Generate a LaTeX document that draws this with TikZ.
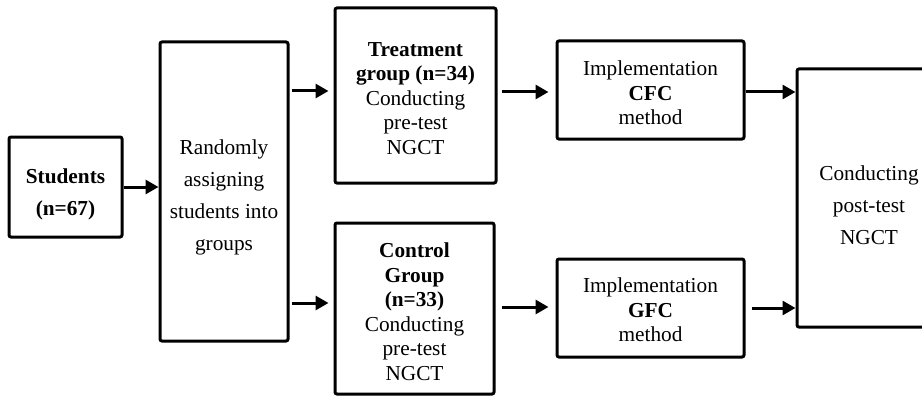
\documentclass[tikz,border=0pt]{standalone}
\usepackage{fontspec}
\setmainfont{Liberation Serif}
\usetikzlibrary{arrows.meta}
\begin{document}
\begin{tikzpicture}[x=1pt,y=-1pt,
  box/.style={draw=black, line width=3pt, rounded corners=2pt, inner sep=0pt},
  txt/.style={inner sep=0pt, align=center, font=\fontsize{21.3}{24.5}\selectfont},
  wide/.style={font=\fontsize{21.3}{32}\selectfont},
  arr/.style={line width=3pt, -{Triangle[length=13pt,width=14pt]}}]
\useasboundingbox (0,0) rectangle (922,396);
\node[box, minimum width=113pt, minimum height=100pt] (stud) at (65.5,187) {};
\node[txt, wide] at ([yshift=-7pt]stud.center) {\textbf{Students}\\\textbf{(n=67)}};
\node[box, minimum width=128pt, minimum height=299pt] (rand) at (224,191.5) {};
\node[txt, wide] at ([yshift=-6pt]rand.center) {Randomly\\assigning\\students into\\groups};
\node[box, minimum width=161pt, minimum height=175pt] (treat) at (415.5,95.5) {};
\node[txt] at ([yshift=-3pt]treat.center)
  {\textbf{Treatment}\\\textbf{group (n=34)}\\Conducting\\pre-test\\NGCT};
\node[box, minimum width=159pt, minimum height=171pt] (ctrl) at (414.5,308.5) {};
\node[txt] at ([yshift=-3pt]ctrl.center)
  {\textbf{Control}\\\textbf{Group}\\\textbf{(n=33)}\\Conducting\\pre-test\\NGCT};
\node[box, minimum width=187pt, minimum height=98pt] (cfc) at (650.5,90) {};
\node[txt] at ([yshift=-3pt]cfc.center) {Implementation\\\textbf{CFC}\\method};
\node[box, minimum width=187pt, minimum height=98pt] (gfc) at (650.5,308) {};
\node[txt] at ([yshift=-2pt]gfc.center) {Implementation\\\textbf{GFC}\\method};
\node[box, minimum width=144pt, minimum height=258pt] (post) at (869,198) {};
\node[txt, wide] at ([yshift=-7pt]post.center) {Conducting\\post-test\\NGCT};
\draw[arr] (stud.east) -- (rand.west |- stud.east);
\draw[arr] ([xshift=2pt]rand.east |- 0,91) -- ([xshift=-5pt]treat.west |- 0,91);
\draw[arr] ([xshift=2pt]rand.east |- 0,303) -- ([xshift=-5pt]ctrl.west |- 0,303);
\draw[arr] ([xshift=4pt]treat.east |- 0,92) -- ([xshift=-7pt]cfc.west |- 0,92);
\draw[arr] ([xshift=6pt]ctrl.east |- 0,307) -- ([xshift=-7pt]gfc.west |- 0,307);
\draw[arr] (cfc.east |- 0,92) -- (post.west |- 0,92);
\draw[arr] ([xshift=6pt]gfc.east |- 0,308) -- (post.west |- 0,308);
\end{tikzpicture}
\end{document}
